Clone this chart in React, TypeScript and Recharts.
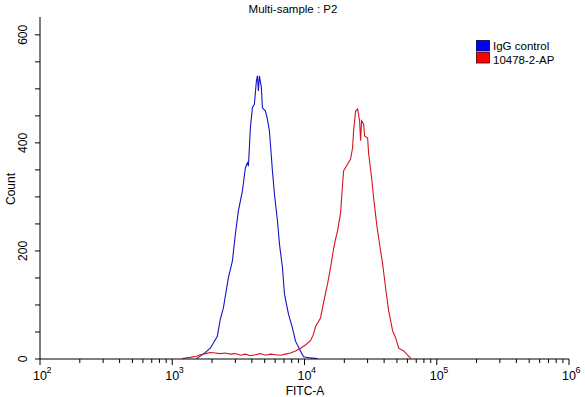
import React from 'react';
import { ComposedChart, Line, XAxis, YAxis, Customized } from 'recharts';

// FITC-A channel positions and counts
const fitcIgG = [1520, 1574, 1717, 1940, 2192, 2310, 2435, 2656, 2848, 3001, 3162, 3392, 3573, 3700, 3766, 3899, 4037, 4181, 4329, 4405, 4482, 4561, 4723, 4806, 5064, 5244, 5430, 5723, 5926, 6245, 6467, 6813, 7055, 7566, 8113, 8550, 9326, 9827, 11104, 12546];
const countIgG = [1, 3, 9, 20, 42, 74, 94, 150, 181, 231, 274, 311, 354, 363, 357, 428, 465, 472, 515, 524, 496, 524, 502, 465, 459, 444, 422, 348, 305, 256, 213, 169, 120, 83, 57, 33, 15, 4, 2, 1];

const fitcAP = [1191, 1369, 1520, 1630, 1778, 1940, 2118, 2310, 2520, 2750, 3001, 3275, 3573, 3899, 4255, 4642, 5064, 5526, 6030, 6579, 7180, 7834, 8550, 9326, 10176, 11104, 11700, 12115, 13219, 13925, 14940, 15740, 16585, 17170, 17783, 18738, 19410, 19750, 21180, 22310, 23100, 23510, 24350, 25210, 26100, 26560, 27030, 27990, 28480, 30010, 30530, 32180, 33330, 35120, 36360, 38980, 41080, 43290, 46420, 48920, 51540, 56230, 63530];
const countAP = [1, 3, 5, 8, 10, 12, 11, 10, 11, 9, 10, 7, 9, 6, 8, 10, 7, 9, 8, 7, 9, 11, 15, 20, 26, 34, 46, 60, 76, 104, 139, 169, 204, 222, 237, 270, 324, 348, 361, 370, 391, 422, 459, 463, 441, 404, 441, 435, 413, 409, 381, 335, 298, 250, 224, 176, 131, 89, 52, 39, 20, 15, 1];

const xTicks = [100, 200, 300, 400, 500, 600, 700, 800, 900, 1000, 2000, 3000, 4000, 5000, 6000, 7000, 8000, 9000, 10000, 20000, 30000, 40000, 50000, 60000, 70000, 80000, 90000, 100000, 200000, 300000, 400000, 500000, 600000, 700000, 800000, 900000, 1000000];
const majorX: Record<number, string> = { 100: '2', 1000: '3', 10000: '4', 100000: '5', 1000000: '6' };
const yTicks = [0, 50, 100, 150, 200, 250, 300, 350, 400, 450, 500, 550, 600];
const yLabels = [0, 200, 400, 600];

const seriesNames = ['IgG control', '10478-2-AP'];
const titleText = 'Multi-sample : P2';
const xTitle = 'FITC-A';
const yTitle = 'Count';

const igData = fitcIgG.map((x, i) => ({ x, count: countIgG[i] }));
const apData = fitcAP.map((x, i) => ({ x, count: countAP[i] }));

const FONT = '"Liberation Sans", Arial, sans-serif';
const BLUE = '#1414c4';
const RED = '#d4141e';

const XTick = (props: any) => {
  const { x, y, payload } = props;
  const v = payload.value as number;
  const exp = majorX[v];
  return (
    <g>
      <line x1={x} x2={x} y1={y} y2={y + (exp ? 6 : 4)} stroke="#000" strokeWidth={1} />
      {exp && (
        <g fontFamily={FONT} fill="#000">
          <text x={x} y={y + 21} textAnchor="middle" fontSize={12.5}>10</text>
          <text x={x + 6.5} y={y + 14} textAnchor="start" fontSize={9}>{exp}</text>
        </g>
      )}
    </g>
  );
};

const YTick = (props: any) => {
  const { x, y, payload } = props;
  const v = payload.value as number;
  const show = yLabels.includes(v);
  return (
    <g>
      <line x1={x - 5} x2={x} y1={y} y2={y} stroke="#000" strokeWidth={1} />
      {show && (
        <text
          x={27}
          y={y}
          transform={`rotate(-90, 27, ${y})`}
          textAnchor="middle"
          fontSize={12}
          fontFamily={FONT}
          fill="#000"
        >
          {v}
        </text>
      )}
    </g>
  );
};

const Decorations = () => (
  <g fontFamily={FONT} fill="#000">
    <text x={293} y={12.5} textAnchor="middle" fontSize={11.5}>{titleText}</text>
    <text x={305} y={395} textAnchor="middle" fontSize={12}>{xTitle}</text>
    <text x={15} y={189} transform="rotate(-90, 15, 189)" textAnchor="middle" fontSize={12}>{yTitle}</text>
    <rect x={476.5} y={40.5} width={13} height={10.5} fill="#0000ff" stroke="#000040" strokeWidth={0.8} />
    <rect x={476.5} y={52.5} width={13} height={10.5} fill="#ff0000" stroke="#400000" strokeWidth={0.8} />
    <text x={493} y={50} fontSize={11.5}>{seriesNames[0]}</text>
    <text x={493} y={63.5} fontSize={11.5}>{seriesNames[1]}</text>
  </g>
);

export default function App() {
  return (
    <div style={{ position: 'absolute', left: 0, top: 0, width: 585, height: 397, background: '#fff' }}>
      <ComposedChart width={585} height={397} margin={{ top: 17, right: 16, bottom: 0, left: 0 }}>
        <XAxis
          dataKey="x"
          type="number"
          scale="log"
          domain={[100, 1000000]}
          allowDataOverflow
          ticks={xTicks}
          interval={0}
          tick={<XTick />}
          tickLine={false}
          tickSize={0}
          tickMargin={0}
          height={38}
          axisLine={{ stroke: '#000', strokeWidth: 1 }}
        />
        <XAxis
          xAxisId="top"
          orientation="top"
          type="number"
          domain={[0, 1]}
          tick={false}
          tickLine={false}
          height={0}
          axisLine={{ stroke: '#000', strokeWidth: 1 }}
        />
        <YAxis
          type="number"
          domain={[0, 633]}
          allowDataOverflow
          ticks={yTicks}
          interval={0}
          tick={<YTick />}
          tickLine={false}
          tickSize={0}
          tickMargin={0}
          width={40}
          axisLine={{ stroke: '#000', strokeWidth: 1 }}
        />
        <YAxis
          yAxisId="right"
          orientation="right"
          type="number"
          domain={[0, 1]}
          tick={false}
          tickLine={false}
          width={0}
          axisLine={{ stroke: '#000', strokeWidth: 1 }}
        />
        <Line
          data={igData}
          dataKey="count"
          name={seriesNames[0]}
          type="linear"
          stroke={BLUE}
          strokeWidth={1.1}
          dot={false}
          activeDot={false}
          isAnimationActive={false}
        />
        <Line
          data={apData}
          dataKey="count"
          name={seriesNames[1]}
          type="linear"
          stroke={RED}
          strokeWidth={1.1}
          dot={false}
          activeDot={false}
          isAnimationActive={false}
        />
        <Customized component={Decorations} />
      </ComposedChart>
    </div>
  );
}
